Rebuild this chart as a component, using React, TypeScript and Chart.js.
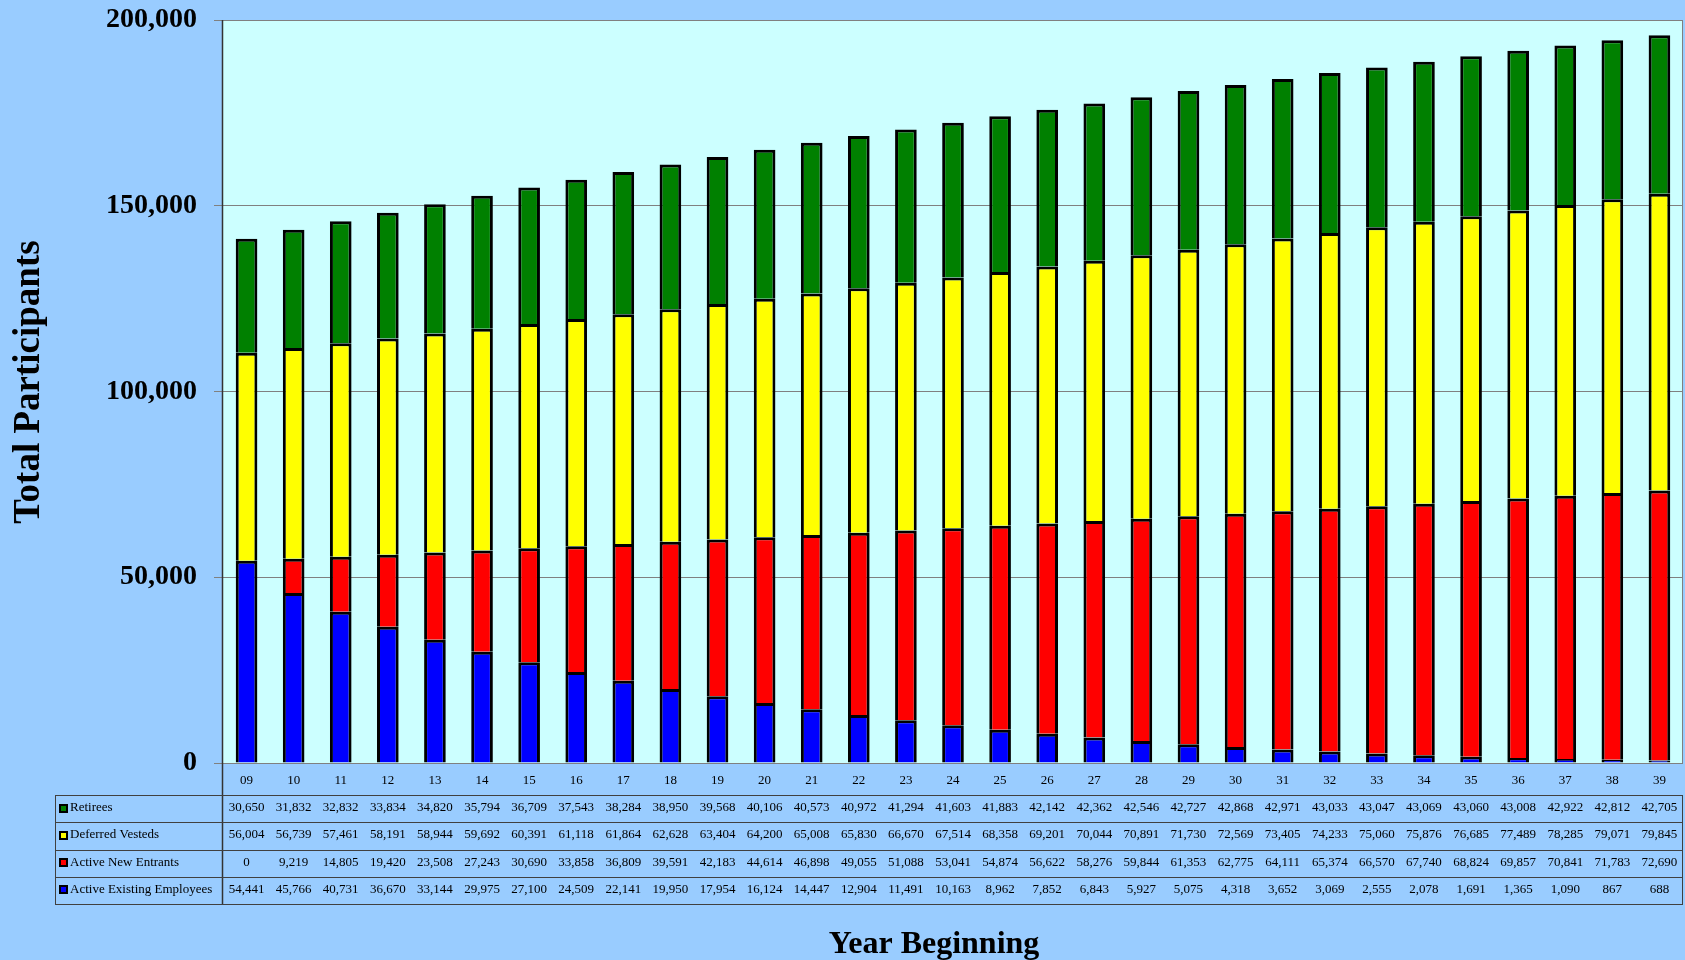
import React, { useEffect, useRef } from "react";
import { Chart, registerables } from "chart.js";

Chart.register(...registerables);

const years = ["09","10","11","12","13","14","15","16","17","18","19","20","21","22","23","24","25","26","27","28","29","30","31","32","33","34","35","36","37","38","39"];

const retirees = [30650,31832,32832,33834,34820,35794,36709,37543,38284,38950,39568,40106,40573,40972,41294,41603,41883,42142,42362,42546,42727,42868,42971,43033,43047,43069,43060,43008,42922,42812,42705];
const deferredVesteds = [56004,56739,57461,58191,58944,59692,60391,61118,61864,62628,63404,64200,65008,65830,66670,67514,68358,69201,70044,70891,71730,72569,73405,74233,75060,75876,76685,77489,78285,79071,79845];
const activeNewEntrants = [0,9219,14805,19420,23508,27243,30690,33858,36809,39591,42183,44614,46898,49055,51088,53041,54874,56622,58276,59844,61353,62775,64111,65374,66570,67740,68824,69857,70841,71783,72690];
const activeExisting = [54441,45766,40731,36670,33144,29975,27100,24509,22141,19950,17954,16124,14447,12904,11491,10163,8962,7852,6843,5927,5075,4318,3652,3069,2555,2078,1691,1365,1090,867,688];

const yTicks = [0, 50000, 100000, 150000, 200000];

const seriesNames = ["Active Existing Employees", "Active New Entrants", "Deferred Vesteds", "Retirees"];
const seriesColors = ["#0000FF", "#FF0000", "#FFFF00", "#008000"];
const seriesData = [activeExisting, activeNewEntrants, deferredVesteds, retirees];

const SERIF = "'Liberation Serif', 'Times New Roman', serif";
const fmt = (v: number) => v.toLocaleString("en-US");

const tablePlugin = {
  id: "tablePlugin",
  beforeDraw(chart: any) {
    const { ctx, chartArea: a, width, height } = chart;
    ctx.save();
    ctx.fillStyle = "#99CCFF";
    ctx.fillRect(0, 0, width, height);
    ctx.fillStyle = "#CCFFFF";
    ctx.fillRect(a.left, a.top, a.right - a.left, a.bottom - a.top);
    ctx.restore();
  },
  afterDraw(chart: any) {
    const { ctx, chartArea: a } = chart;
    const xs = chart.scales.x;
    const tableTop = a.bottom + 32;
    const rowH = 27.25;
    const tableBottom = tableTop + rowH * 4;
    const tableLeft = 55;
    const tableRight = a.right;
    ctx.save();
    ctx.strokeStyle = "#808080";
    ctx.lineWidth = 1;
    ctx.beginPath();
    ctx.moveTo(Math.round(a.right) - 0.5, a.top);
    ctx.lineTo(Math.round(a.right) - 0.5, a.bottom);
    ctx.stroke();
    ctx.strokeStyle = "#333333";
    ctx.lineWidth = 1.5;
    ctx.beginPath();
    ctx.moveTo(Math.round(a.left) - 0.5, a.top);
    ctx.lineTo(Math.round(a.left) - 0.5, tableBottom);
    ctx.stroke();
    ctx.lineWidth = 1;
    ctx.strokeStyle = "#404040";
    for (let r = 0; r <= 4; r++) {
      const y = Math.round(tableTop + r * rowH) + 0.5;
      ctx.beginPath();
      ctx.moveTo(tableLeft, y);
      ctx.lineTo(tableRight, y);
      ctx.stroke();
    }
    ctx.beginPath();
    ctx.moveTo(tableLeft + 0.5, tableTop);
    ctx.lineTo(tableLeft + 0.5, tableBottom);
    ctx.moveTo(tableRight - 0.5, tableTop);
    ctx.lineTo(tableRight - 0.5, tableBottom);
    ctx.stroke();
    ctx.font = `13px ${SERIF}`;
    ctx.textBaseline = "middle";
    for (let r = 0; r < 4; r++) {
      const si = 3 - r;
      const cy = tableTop + r * rowH + rowH / 2 - 1;
      ctx.fillStyle = "#000";
      ctx.fillRect(59, Math.round(cy) - 4, 9, 9);
      ctx.fillStyle = seriesColors[si];
      ctx.fillRect(61, Math.round(cy) - 2, 5, 5);
      ctx.fillStyle = "#000";
      ctx.textAlign = "left";
      ctx.fillText(seriesNames[si], 70, cy);
      ctx.textAlign = "center";
      seriesData[si].forEach((v, i) => {
        ctx.fillText(fmt(v), xs.getPixelForValue(i), cy);
      });
    }
    ctx.fillStyle = "#000";
    ctx.font = `bold 32px ${SERIF}`;
    ctx.textAlign = "center";
    ctx.textBaseline = "alphabetic";
    ctx.fillText("Year Beginning", 934, 953);
    ctx.save();
    ctx.translate(39, 382);
    ctx.rotate(-Math.PI / 2);
    ctx.font = `bold 37px ${SERIF}`;
    ctx.fillText("Total Participants", 0, 0);
    ctx.restore();
    ctx.restore();
  },
};

export default function App() {
  const ref = useRef<HTMLCanvasElement>(null);
  useEffect(() => {
    if (!ref.current) return;
    const chart = new Chart(ref.current, {
      type: "bar",
      data: {
        labels: years,
        datasets: seriesNames.map((name, i) => ({
          label: name,
          data: seriesData[i],
          backgroundColor: seriesColors[i],
          borderColor: "#000000",
          borderWidth: 3,
          borderSkipped: "start",
          barPercentage: 0.46,
          categoryPercentage: 1,
        })),
      },
      options: {
        responsive: false,
        animation: false,
        layout: { autoPadding: false, padding: { left: 0, right: 2, top: 20, bottom: 0 } },
        plugins: { legend: { display: false }, tooltip: { enabled: false }, title: { display: false } },
        scales: {
          x: {
            stacked: true,
            grid: { display: false, drawTicks: false },
            border: { display: false },
            ticks: { color: "#000", font: { family: SERIF, size: 13 }, padding: 10, maxRotation: 0, autoSkip: false },
            afterFit: (s: any) => { s.height = 197; s.paddingLeft = 0; s.paddingRight = 0; },
          },
          y: {
            stacked: true,
            min: 0,
            max: 200000,
            afterBuildTicks: (s: any) => { s.ticks = yTicks.map((v) => ({ value: v })); },
            grid: { color: "#808080", lineWidth: 1, tickLength: 9, drawTicks: true },
            border: { display: false },
            ticks: {
              color: "#000",
              font: { family: SERIF, size: 28, weight: "bold" },
              padding: 17,
              callback: (v: any) => fmt(Number(v)),
            },
            afterFit: (s: any) => { s.width = 223; s.paddingTop = 0; s.paddingBottom = 0; },
          },
        },
      },
      plugins: [tablePlugin],
    } as any);
    return () => chart.destroy();
  }, []);
  return (
    <div style={{ position: "fixed", left: 0, top: 0, width: 1685, height: 960, background: "#99CCFF" }}>
      <canvas ref={ref} width={1685} height={960} style={{ display: "block", width: 1685, height: 960 }} />
    </div>
  );
}
